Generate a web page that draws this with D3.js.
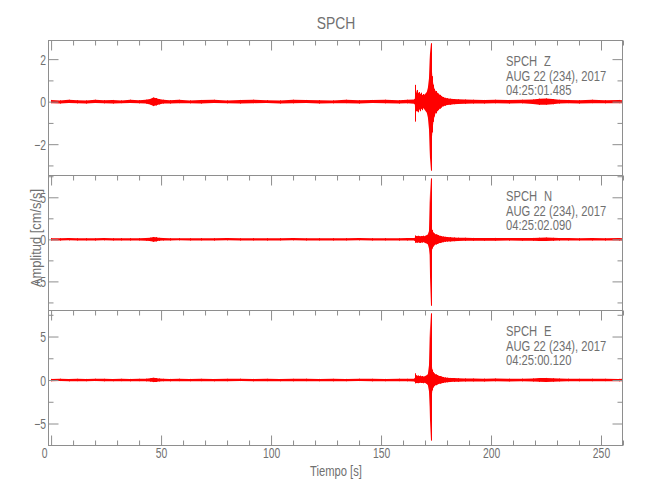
<!DOCTYPE html>
<html><head><meta charset="utf-8">
<script src="https://cdn.jsdelivr.net/npm/d3@7"></script>
<style>
body{margin:0;background:#fff}
svg{display:block}
text{font-family:"Liberation Sans",Arial,sans-serif;fill:#707070}
</style>
</head><body><svg id="c" width="650" height="500"></svg>
<script>
// ---- data (envelope: upper / lower amplitude, cm/s/s) ----
const time = [
  0, 4, 8, 12, 16, 20, 24, 28, 32, 36,
  40, 43, 45, 46.5, 47.5, 49, 51, 54, 58, 63,
  68, 74, 80, 86, 92, 98, 104, 110, 116, 122,
  128, 134, 140, 146, 152, 158, 162, 165.0, 165.4, 165.6,
  165.9, 166.3, 166.8, 167.3, 167.8, 168.3, 168.8, 169.3, 169.8, 170.3,
  170.8, 171.3, 171.8, 172.1, 172.5, 172.9, 173.3, 173.8, 174.3, 174.8,
  175.4, 176.0, 176.7, 177.4, 178.2, 179.0, 180.0, 181.5, 183, 185,
  188, 192, 197, 202, 208, 214, 219, 222, 225, 228,
  231, 235, 240, 246, 252, 258, 260
];
const zUpper = [
  0.08, 0.06, 0.09, 0.07, 0.06, 0.09, 0.07, 0.08, 0.06, 0.09,
  0.07, 0.09, 0.12, 0.19, 0.17, 0.12, 0.09, 0.07, 0.09, 0.06,
  0.08, 0.09, 0.06, 0.08, 0.09, 0.07, 0.06, 0.09, 0.08, 0.07,
  0.06, 0.09, 0.07, 0.08, 0.09, 0.07, 0.09, 0.10, 0.15, 0.79,
  0.40, 0.55, 0.38, 0.45, 0.35, 0.42, 0.30, 0.36, 0.32, 0.40,
  0.45, 0.65, 1.10, 1.96, 2.75, 1.85, 1.20, 0.80, 0.60, 0.50,
  0.42, 0.38, 0.32, 0.27, 0.22, 0.18, 0.16, 0.14, 0.12, 0.11,
  0.10, 0.09, 0.08, 0.09, 0.08, 0.09, 0.10, 0.14, 0.15, 0.12,
  0.09, 0.08, 0.07, 0.09, 0.07, 0.08, 0.07
];
const zLower = [
  -0.07, -0.09, -0.06, -0.08, -0.09, -0.06, -0.08, -0.09, -0.07, -0.06,
  -0.08, -0.09, -0.13, -0.21, -0.18, -0.13, -0.09, -0.09, -0.07, -0.08,
  -0.09, -0.06, -0.08, -0.09, -0.07, -0.06, -0.09, -0.08, -0.06, -0.09,
  -0.08, -0.07, -0.09, -0.06, -0.08, -0.09, -0.08, -0.10, -0.14, -0.94,
  -0.45, -0.42, -0.50, -0.35, -0.45, -0.32, -0.40, -0.30, -0.38, -0.45,
  -0.52, -0.75, -1.30, -2.27, -3.25, -2.10, -1.45, -0.95, -0.70, -0.55,
  -0.45, -0.40, -0.33, -0.28, -0.22, -0.19, -0.16, -0.14, -0.12, -0.11,
  -0.10, -0.09, -0.09, -0.08, -0.09, -0.08, -0.11, -0.15, -0.14, -0.12,
  -0.09, -0.07, -0.09, -0.07, -0.08, -0.07, -0.08
];
const nUpper = [
  0.14, 0.12, 0.15, 0.13, 0.14, 0.12, 0.15, 0.13, 0.14, 0.13,
  0.14, 0.16, 0.20, 0.28, 0.26, 0.18, 0.15, 0.13, 0.14, 0.12,
  0.14, 0.13, 0.15, 0.12, 0.14, 0.13, 0.14, 0.15, 0.12, 0.14,
  0.13, 0.14, 0.15, 0.13, 0.14, 0.12, 0.15, 0.16, 0.20, 0.45,
  0.40, 0.35, 0.42, 0.38, 0.33, 0.40, 0.36, 0.42, 0.38, 0.45,
  0.50, 0.60, 1.00, 4.30, 7.25, 1.70, 1.10, 0.80, 0.70, 0.60,
  0.55, 0.50, 0.42, 0.38, 0.33, 0.30, 0.28, 0.25, 0.22, 0.20,
  0.19, 0.17, 0.16, 0.17, 0.16, 0.15, 0.17, 0.19, 0.21, 0.18,
  0.16, 0.15, 0.14, 0.15, 0.14, 0.15, 0.14
];
const nLower = [
  -0.13, -0.15, -0.12, -0.14, -0.13, -0.15, -0.12, -0.14, -0.13, -0.14,
  -0.13, -0.16, -0.21, -0.28, -0.25, -0.18, -0.14, -0.14, -0.12, -0.14,
  -0.13, -0.15, -0.12, -0.14, -0.13, -0.15, -0.13, -0.12, -0.14, -0.13,
  -0.14, -0.13, -0.12, -0.14, -0.13, -0.15, -0.14, -0.15, -0.20, -0.40,
  -0.36, -0.40, -0.34, -0.38, -0.42, -0.35, -0.38, -0.33, -0.40, -0.45,
  -0.50, -0.60, -1.10, -1.85, -7.90, -1.80, -1.10, -0.85, -0.70, -0.62,
  -0.55, -0.48, -0.44, -0.38, -0.34, -0.30, -0.27, -0.25, -0.22, -0.20,
  -0.18, -0.17, -0.16, -0.16, -0.15, -0.16, -0.17, -0.20, -0.19, -0.17,
  -0.15, -0.14, -0.15, -0.14, -0.15, -0.14, -0.15
];
const eUpper = [
  0.13, 0.15, 0.12, 0.14, 0.13, 0.15, 0.14, 0.12, 0.14, 0.13,
  0.14, 0.15, 0.19, 0.25, 0.23, 0.17, 0.14, 0.13, 0.15, 0.13,
  0.14, 0.12, 0.14, 0.15, 0.13, 0.14, 0.12, 0.14, 0.15, 0.13,
  0.14, 0.13, 0.15, 0.14, 0.13, 0.15, 0.14, 0.16, 0.22, 0.77,
  0.55, 0.45, 0.52, 0.42, 0.50, 0.40, 0.46, 0.38, 0.44, 0.50,
  0.55, 0.70, 1.70, 4.80, 7.67, 2.20, 1.20, 0.90, 0.75, 0.65,
  0.58, 0.50, 0.45, 0.40, 0.35, 0.30, 0.27, 0.24, 0.22, 0.20,
  0.18, 0.17, 0.16, 0.17, 0.15, 0.16, 0.18, 0.22, 0.24, 0.20,
  0.17, 0.15, 0.14, 0.15, 0.14, 0.13, 0.14
];
const eLower = [
  -0.14, -0.12, -0.15, -0.13, -0.14, -0.12, -0.15, -0.14, -0.13, -0.15,
  -0.13, -0.15, -0.18, -0.24, -0.23, -0.16, -0.14, -0.15, -0.13, -0.14,
  -0.13, -0.15, -0.14, -0.12, -0.15, -0.13, -0.14, -0.15, -0.13, -0.14,
  -0.15, -0.14, -0.12, -0.15, -0.14, -0.13, -0.15, -0.16, -0.20, -0.38,
  -0.35, -0.30, -0.36, -0.32, -0.28, -0.34, -0.30, -0.36, -0.32, -0.38,
  -0.45, -0.60, -1.30, -3.07, -6.97, -2.40, -1.20, -0.85, -0.70, -0.60,
  -0.52, -0.47, -0.42, -0.37, -0.33, -0.28, -0.26, -0.23, -0.21, -0.19,
  -0.17, -0.16, -0.17, -0.15, -0.16, -0.15, -0.17, -0.21, -0.23, -0.19,
  -0.16, -0.14, -0.15, -0.14, -0.13, -0.15, -0.14
];

const station = "SPCH";
const components = ["Z", "N", "E"];
const dateLabel = "AUG 22 (234), 2017";
const startTimes = ["04:25:01.485", "04:25:02.090", "04:25:00.120"];
const yMin = [-3.45, -8.4, -7.47];
const yMax = [2.9, 7.65, 8.05];
const yMajor = [[-2, 0, 2], [-5, 0, 5], [-5, 0, 5]];
const yMinorStep = [1, 2.5, 2.5];
const xMajor = [0, 50, 100, 150, 200, 250];
const xMinorStep = 10;
const xDomain = [-1.4, 260];
const xTitle = "Tiempo [s]";
const yTitle = "Amplitud [cm/s/s]";

// ---- drawing ----
const svg = d3.select("#c");
const plotL = 48, plotR = 623, plotT = 40, panelH = 135;
const axisColor = "#8e8e8e";
const red = "#ff0000";
const x = d3.scaleLinear().domain(xDomain).range([plotL, plotR]);
const series = [[zUpper, zLower], [nUpper, nLower], [eUpper, eLower]];

const xMinor = d3.range(0, 260 + 1e-9, xMinorStep).filter(v => !xMajor.includes(v));

function tickAxis(axisFn, scale, vals, size, tx, ty) {
  const g = svg.append("g").attr("transform", `translate(${tx},${ty})`)
    .call(axisFn(scale).tickValues(vals).tickSize(size).tickSizeOuter(0).tickFormat(""));
  g.select(".domain").remove();
  g.selectAll("line").attr("stroke", axisColor).attr("stroke-width", 1);
  g.selectAll("text").remove();
  return g;
}

series.forEach((s, i) => {
  const y0 = plotT + i * panelH, y1 = y0 + panelH;
  const y = d3.scaleLinear().domain([yMin[i], yMax[i]]).range([y1, y0]);

  svg.append("clipPath").attr("id", "clip" + i).append("rect")
    .attr("x", plotL).attr("y", y0).attr("width", plotR - plotL).attr("height", panelH);

  const wave = svg.append("g").attr("clip-path", `url(#clip${i})`);
  const area = d3.area()
    .x((d, k) => x(time[k]))
    .y0((d, k) => y(s[1][k]))
    .y1((d, k) => y(s[0][k]));
  wave.append("path").datum(time)
    .attr("d", area)
    .attr("fill", red).attr("stroke", "none");
  // min/max sample strokes (single-sample peaks show as thin vertical lines)
  wave.selectAll("line.smp").data(time).join("line")
    .attr("class", "smp")
    .attr("x1", d => Math.round(x(d)) + 0.5).attr("x2", d => Math.round(x(d)) + 0.5)
    .attr("y1", (d, k) => y(s[0][k])).attr("y2", (d, k) => y(s[1][k]))
    .attr("stroke", red).attr("stroke-width", 1);

  // frame
  svg.append("rect").attr("x", plotL + 0.5).attr("y", y0 + 0.5)
    .attr("width", plotR - plotL - 1).attr("height", panelH)
    .attr("fill", "none").attr("stroke", axisColor).attr("stroke-width", 1);

  // y ticks
  const step = yMinorStep[i];
  const yMinorVals = d3.range(Math.ceil(yMin[i] / step) * step, yMax[i] + 1e-9, step)
    .filter(v => !yMajor[i].some(m => Math.abs(m - v) < 1e-9));
  tickAxis(d3.axisRight, y, yMajor[i], 10, plotL + 0.5, 0);
  tickAxis(d3.axisRight, y, yMinorVals, 5, plotL + 0.5, 0);
  tickAxis(d3.axisLeft, y, yMajor[i], 10, plotR - 0.5, 0);
  tickAxis(d3.axisLeft, y, yMinorVals, 5, plotR - 0.5, 0);

  // x ticks at top of panel
  tickAxis(d3.axisBottom, x, xMajor, 10, 0, y0 + 0.5);
  tickAxis(d3.axisBottom, x, xMinor, 5, 0, y0 + 0.5);

  // y tick labels
  const gl = svg.append("g").attr("transform", `translate(46,0)`)
    .call(d3.axisLeft(y).tickValues(yMajor[i]).tickSize(0).tickPadding(0).tickFormat(d3.format("d")));
  gl.select(".domain").remove();
  gl.attr("font-size", null).attr("font-family", null);
  gl.selectAll("text").attr("class", "lbl").attr("font-size", 14).attr("dy", "0.36em").attr("fill", "#707070");

  // annotation
  const tx = 506;
  svg.append("text").attr("class", "ann").attr("x", tx).attr("y", y0 + 26).attr("font-size", 14).text(station);
  svg.append("text").attr("class", "ann").attr("x", 544).attr("y", y0 + 26).attr("font-size", 14).text(components[i]);
  svg.append("text").attr("class", "ann").attr("x", tx).attr("y", y0 + 40.5).attr("font-size", 14).text(dateLabel);
  svg.append("text").attr("class", "ann").attr("x", tx).attr("y", y0 + 55).attr("font-size", 14).text(startTimes[i]);
});

// bottom x axis of last panel
const yb = plotT + 3 * panelH;
tickAxis(d3.axisTop, x, xMajor, 10, 0, yb + 0.5);
tickAxis(d3.axisTop, x, xMinor, 5, 0, yb + 0.5);
const gx = svg.append("g").attr("transform", `translate(0,${yb})`)
  .call(d3.axisBottom(x).tickValues(xMajor).tickSize(0).tickPadding(0).tickFormat(d3.format("d")));
gx.select(".domain").remove();
gx.attr("font-size", null).attr("font-family", null);
gx.selectAll("text").attr("class", "lbl").attr("font-size", 14).attr("dy", null).attr("y", 13)
  .attr("fill", "#707070")
  .attr("dx", (d, k) => k === 0 ? -7 : 0);

// titles
svg.append("text").attr("class", "ttl").attr("x", 336).attr("y", 29).attr("text-anchor", "middle")
  .attr("font-size", 16.5).text(station);
svg.append("text").attr("class", "xt").attr("x", 336).attr("y", 476).attr("text-anchor", "middle")
  .attr("font-size", 14).text(xTitle);
svg.append("text").attr("class", "yt").attr("transform", "translate(40.5,238) rotate(-90)")
  .attr("text-anchor", "middle").attr("font-size", 14).text(yTitle);

// condense glyphs to resemble the narrow plotting font
function condense(sel, f) {
  sel.each(function () {
    const L = this.getComputedTextLength();
    d3.select(this).attr("textLength", L * f).attr("lengthAdjust", "spacingAndGlyphs");
  });
}
condense(svg.selectAll("text.lbl"), 0.74);
condense(svg.selectAll("text.ann"), 0.8);
condense(svg.selectAll("text.ttl"), 0.84);
condense(svg.selectAll("text.xt"), 0.8);
condense(svg.selectAll("text.yt"), 0.92);
</script>
</body></html>
